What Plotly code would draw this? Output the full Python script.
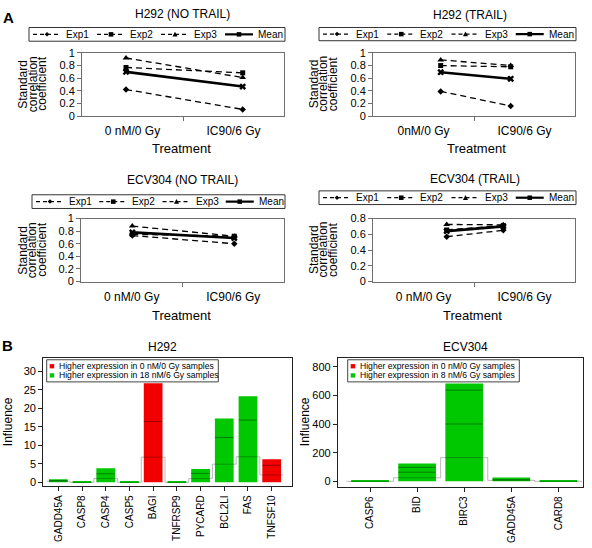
import numpy as np
import plotly.graph_objects as go

W, H = 592, 548
FONT = "Liberation Sans, Arial, sans-serif"
AX = "#6e6e6e"

# ---------------- Panel A data ----------------
series_names = ["Exp1", "Exp2", "Exp3", "Mean"]
treat_labels = ["0 nM/0 Gy", "IC90/6 Gy"]
treat_labels_b = ["0nM/0 Gy", "IC90/6 Gy"]
treat_index = [0, 1]

h292_notrail_exp1 = [0.42, 0.105]
h292_notrail_exp2 = [0.77, 0.685]
h292_notrail_exp3 = [0.92, 0.61]
h292_notrail_mean = [0.70, 0.467]

h292_trail_exp1 = [0.39, 0.16]
h292_trail_exp2 = [0.80, 0.78]
h292_trail_exp3 = [0.89, 0.80]
h292_trail_mean = [0.695, 0.59]

ecv_notrail_exp1 = [0.73, 0.60]
ecv_notrail_exp2 = [0.75, 0.72]
ecv_notrail_exp3 = [0.88, 0.72]
ecv_notrail_mean = [0.78, 0.69]

ecv_trail_exp1 = [0.57, 0.65]
ecv_trail_exp2 = [0.655, 0.71]
ecv_trail_exp3 = [0.725, 0.72]
ecv_trail_mean = [0.64, 0.70]

# ---------------- Panel B data ----------------
h292_genes = ["GADD45A", "CASP8", "CASP4", "CASP5", "BAGI", "TNFRSP9",
              "PYCARD", "BCL2LI", "FAS", "TNFSF10"]
h292_influence = [0.8, 0.1, 3.8, 0.1, 26.7, 0.1, 3.6, 17.2, 23.2, 6.2]
h292_higher_in = ["treated", "treated", "treated", "treated", "untreated",
                  "treated", "treated", "treated", "treated", "untreated"]
h292_threshold = [0.3, 0, 1.05, 0, 6.8, 0, 1.0, 4.9, 6.9, 2.0]
h292_inner = [0.45, 0, 2.3, 0, 16.4, 0, 2.4, 12.1, 16.8, 4.6]
h292_legend = ["Higher expression in 0 nM/0 Gy samples",
               "Higher expression in 18 nM/6 Gy samples"]

ecv_genes = ["CASP6", "BID", "BIRC3", "GADD45A", "CARD8"]
ecv_influence = [3, 125, 684, 27, 3]
ecv_higher_in = ["treated", "treated", "treated", "treated", "treated"]
ecv_threshold = [0, 25, 166, 7, 0]
ecv_inner = [0, 64, 401, 12, 0]
ecv_inner_upper = [0, 98, 638, 0, 0]
ecv_legend = ["Higher expression in 0 nM/0 Gy samples",
              "Higher expression in 8 nM/6 Gy samples"]

RED = "#f20000"
GREEN = "#00c800"


def fx(p):
    return p / W


def fy(p):
    return 1 - p / H


fig = go.Figure()
annotations = []
shapes = []
layout = {}

styles = [
    dict(dash="6px,4px", sdash="4px,3px", width=1.3, symbol="diamond", size=5),
    dict(dash="6px,4px", sdash="4px,3px", width=1.3, symbol="square", size=5),
    dict(dash="6px,4px", sdash="4px,3px", width=1.3, symbol="triangle-up", size=6),
    dict(dash="solid", sdash="solid", width=2.6, symbol="x", size=6),
]


def marker_path(symbol, cx, cy, r):
    """Small legend-key glyph as an SVG path in paper units (pixel helpers)."""
    if symbol == "diamond":
        pts = [(cx, cy - r), (cx + r, cy), (cx, cy + r), (cx - r, cy)]
    elif symbol == "square":
        pts = [(cx - r, cy - r), (cx + r, cy - r), (cx + r, cy + r), (cx - r, cy + r)]
    elif symbol == "triangle-up":
        pts = [(cx, cy - r * 1.2), (cx + r * 1.1, cy + r), (cx - r * 1.1, cy + r)]
    else:
        pts = [(cx - r, cy - r), (cx + r, cy - r), (cx + r, cy + r), (cx - r, cy + r)]
    return "M" + "L".join(f"{fx(a):.5f},{fy(b):.5f}" for a, b in pts) + "Z"


panelsA = [
    dict(title="H292 (NO TRAIL)", labels=treat_labels,
         series=[h292_notrail_exp1, h292_notrail_exp2, h292_notrail_exp3, h292_notrail_mean],
         box=(82, 284, 48, 112.5), pts=(126, 242.7), yr=[0, 1],
         title_xy=(182.5, 8.5), leg=(29, 285, 22, 36), treat_xy=(181.7, 146),
         ylab_x=(23.5, 33, 42.5), ylab_y=80),
    dict(title="H292 (TRAIL)", labels=treat_labels_b,
         series=[h292_trail_exp1, h292_trail_exp2, h292_trail_exp3, h292_trail_mean],
         box=(373, 575, 48, 112.5), pts=(440.7, 510.7), yr=[0, 1],
         title_xy=(470, 9.5), leg=(319, 576, 22, 35.5), treat_xy=(476.7, 146),
         ylab_x=(314, 323.5, 333), ylab_y=80),
    dict(title="ECV304 (NO TRAIL)", labels=treat_labels,
         series=[ecv_notrail_exp1, ecv_notrail_exp2, ecv_notrail_exp3, ecv_notrail_mean],
         box=(81, 284, 217.3, 281.7), pts=(132.3, 234.3), yr=[0, 1],
         title_xy=(182, 178), leg=(32, 285, 193, 207), treat_xy=(181.7, 316),
         ylab_x=(22.7, 32.2, 41.7), ylab_y=249.5),
    dict(title="ECV304 (TRAIL)", labels=treat_labels,
         series=[ecv_trail_exp1, ecv_trail_exp2, ecv_trail_exp3, ecv_trail_mean],
         box=(373, 575, 217.3, 281.7), pts=(446.7, 503.3), yr=[0, 0.8],
         title_xy=(475, 177), leg=(319, 576, 189, 203), treat_xy=(472.7, 316),
         ylab_x=(314, 323.5, 333), ylab_y=249.5),
]

for k, p in enumerate(panelsA, start=1):
    xa = "xaxis" if k == 1 else f"xaxis{k}"
    ya = "yaxis" if k == 1 else f"yaxis{k}"
    xr = "x" if k == 1 else f"x{k}"
    yr = "y" if k == 1 else f"y{k}"
    x0, x1, yt, yb = p["box"]
    p0, p1 = p["pts"]
    unit = p1 - p0
    lo, hi = (x0 - p0) / unit, (x1 - p0) / unit
    span = hi - lo
    for name, vals, st in zip(series_names, p["series"], styles):
        fig.add_trace(go.Scatter(
            x=treat_index, y=vals, xaxis=xr, yaxis=yr, name=name,
            mode="lines+markers", showlegend=False,
            line=dict(color="black", width=st["width"], dash=st["dash"]),
            marker=dict(symbol=st["symbol"], size=st["size"], color="black",
                        line=dict(width=0)),
        ))
    layout[xa] = dict(
        domain=[fx(x0), fx(x1)], range=[lo, hi], anchor=yr,
        showline=True, linecolor=AX, linewidth=1, mirror=True,
        showgrid=False, zeroline=False,
        tickmode="array", tickvals=[lo + 0.25 * span, lo + 0.75 * span],
        ticktext=p["labels"], ticks="", ticklabelstandoff=4,
        tickfont=dict(size=12, family=FONT, color="black"),
        minor=dict(tickmode="array", tickvals=[lo + 0.5 * span], ticks="outside",
                   ticklen=4, tickcolor=AX, tickwidth=1, showgrid=False),
    )
    layout[ya] = dict(
        domain=[fy(yb), fy(yt)], range=p["yr"], anchor=xr, dtick=0.2,
        showline=True, linecolor=AX, linewidth=1, mirror=True,
        showgrid=False, zeroline=False, ticks="outside", ticklen=4,
        tickcolor=AX, tickfont=dict(size=11, family=FONT, color="black"),
    )
    # legend (drawn as key glyphs + text)
    bx0, bx1, by0, by1 = p["leg"]
    shapes.append(dict(type="rect", xref="paper", yref="paper",
                       x0=fx(bx0), x1=fx(bx1), y0=fy(by1), y1=fy(by0),
                       line=dict(color="#333333", width=1), fillcolor="white"))
    cy = (by0 + by1) / 2
    step = (bx1 - bx0) / 4.0
    for i, (name, st) in enumerate(zip(series_names, styles)):
        lx0 = bx0 + 4 + i * step
        lx1 = lx0 + 28
        shapes.append(dict(type="line", xref="paper", yref="paper",
                           x0=fx(lx0), x1=fx(lx1), y0=fy(cy), y1=fy(cy),
                           line=dict(color="black", width=1.2 if i < 3 else 2.2,
                                     dash=st["sdash"])))
        shapes.append(dict(type="path", xref="paper", yref="paper",
                           path=marker_path(st["symbol"], (lx0 + lx1) / 2, cy, 2.3),
                           fillcolor="black", line=dict(width=0)))
        annotations.append(dict(
            text=name, x=fx(lx1 + 3), y=fy(cy), xref="paper", yref="paper",
            showarrow=False, xanchor="left", yanchor="middle",
            font=dict(size=10, family=FONT, color="black")))
    annotations.append(dict(
        text=p["title"], x=fx(p["title_xy"][0]), y=fy(p["title_xy"][1]),
        xref="paper", yref="paper", showarrow=False, xanchor="center",
        yanchor="middle", font=dict(size=12, family=FONT, color="black")))
    annotations.append(dict(
        text="Treatment", x=fx(p["treat_xy"][0]), y=fy(p["treat_xy"][1]),
        xref="paper", yref="paper", showarrow=False, xanchor="center",
        yanchor="middle", font=dict(size=13, family=FONT, color="black")))
    for word, xx in zip(["Standard", "correlation", "coefficient"], p["ylab_x"]):
        annotations.append(dict(
            text=word, x=fx(xx), y=fy(p["ylab_y"]), xref="paper", yref="paper",
            showarrow=False, textangle=-90, xanchor="center", yanchor="middle",
            font=dict(size=12, family=FONT, color="black")))

# ---------------- Panel B ----------------
panelsB = [
    dict(title="H292", genes=h292_genes, vals=h292_influence, dirn=h292_higher_in,
         thr=h292_threshold, inner=[h292_inner], leg_text=h292_legend,
         box=(43.3, 291.7, 360, 491), cat=(58.3, 23.71), y0=487, yunit=3.79,
         dtick=5, width=0.79, title_xy=(162, 349), infl_x=8,
         legbox=(46.7, 218.3, 361.7, 384.3)),
    dict(title="ECV304", genes=ecv_genes, vals=ecv_influence, dirn=ecv_higher_in,
         thr=ecv_threshold, inner=[ecv_inner, ecv_inner_upper], leg_text=ecv_legend,
         box=(338, 583.3, 360, 492), cat=(370, 47.1), y0=486, yunit=29.25 / 200,
         dtick=200, width=0.8, title_xy=(465, 348.5), infl_x=305,
         legbox=(347.7, 519.3, 361.7, 384.3)),
]

for j, p in enumerate(panelsB, start=5):
    xa, ya = f"xaxis{j}", f"yaxis{j}"
    xr, yr = f"x{j}", f"y{j}"
    x0, x1, yt, yb = p["box"]
    c0, cs = p["cat"]
    n = len(p["genes"])
    idx = np.arange(n)
    vals = np.array(p["vals"], dtype=float)
    dirn = np.array(p["dirn"])
    for key, col in (("untreated", RED), ("treated", GREEN)):
        m = dirn == key
        if m.any():
            fig.add_trace(go.Bar(
                x=idx[m], y=vals[m], xaxis=xr, yaxis=yr, width=p["width"],
                marker=dict(color=col, line=dict(width=0)), showlegend=False,
                hoverinfo="skip"))
    thr = list(p["thr"]) + [p["thr"][-1]]
    fig.add_trace(go.Scatter(
        x=np.arange(n + 1) - 0.5, y=thr, xaxis=xr, yaxis=yr, mode="lines",
        line=dict(color="rgba(0,0,0,0.27)", width=1, shape="hv"),
        showlegend=False, hoverinfo="skip"))
    lx, ly = [], []
    for arr in p["inner"]:
        for i, v in enumerate(arr):
            if v > 0:
                lx += [i - p["width"] / 2, i + p["width"] / 2, None]
                ly += [v, v, None]
    fig.add_trace(go.Scatter(
        x=lx, y=ly, xaxis=xr, yaxis=yr, mode="lines",
        line=dict(color="rgba(0,0,0,0.38)", width=1),
        showlegend=False, hoverinfo="skip"))
    layout[xa] = dict(
        domain=[fx(x0), fx(x1)], range=[(x0 - c0) / cs, (x1 - c0) / cs], anchor=yr,
        showline=True, linecolor="#222222", linewidth=1.2, mirror=True,
        showgrid=False, zeroline=False, tickmode="array", tickvals=idx,
        ticktext=p["genes"], ticks="outside", ticklen=4, tickcolor="#222222",
        tickangle=-90, tickfont=dict(size=10, family=FONT, color="black"),
    )
    layout[ya] = dict(
        domain=[fy(yb), fy(yt)],
        range=[-(yb - p["y0"]) / p["yunit"], (p["y0"] - yt) / p["yunit"]],
        anchor=xr, dtick=p["dtick"],
        showline=True, linecolor="#222222", linewidth=1.2, mirror=True,
        showgrid=False, zeroline=False, ticks="outside", ticklen=4,
        tickcolor="#222222", tickfont=dict(size=11, family=FONT, color="black"),
    )
    annotations.append(dict(
        text=p["title"], x=fx(p["title_xy"][0]), y=fy(p["title_xy"][1]),
        xref="paper", yref="paper", showarrow=False, xanchor="center",
        yanchor="middle", font=dict(size=12, family=FONT, color="black")))
    annotations.append(dict(
        text="Influence", x=fx(p["infl_x"]), y=fy(425.5), xref="paper",
        yref="paper", showarrow=False, textangle=-90, xanchor="center",
        yanchor="middle", font=dict(size=12, family=FONT, color="black")))
    bx0, bx1, by0, by1 = p["legbox"]
    shapes.append(dict(type="rect", xref="paper", yref="paper",
                       x0=fx(bx0), x1=fx(bx1), y0=fy(by1), y1=fy(by0),
                       line=dict(color="#444444", width=1), fillcolor="white"))
    for r, (txt, col) in enumerate(zip(p["leg_text"], (RED, GREEN))):
        cy = by0 + 6.6 + r * 9.4
        shapes.append(dict(type="rect", xref="paper", yref="paper",
                           x0=fx(bx0 + 3), x1=fx(bx0 + 7.5),
                           y0=fy(cy + 2.2), y1=fy(cy - 2.2),
                           line=dict(width=0), fillcolor=col))
        annotations.append(dict(
            text=txt, x=fx(bx0 + 10), y=fy(cy), xref="paper", yref="paper",
            showarrow=False, xanchor="left", yanchor="middle",
            font=dict(size=8.6, family=FONT, color="black")))

# Panel letters
annotations.append(dict(text="<b>A</b>", x=fx(1), y=fy(1), xref="paper", yref="paper",
                        showarrow=False, xanchor="left", yanchor="top",
                        font=dict(size=15, family=FONT, color="black")))
annotations.append(dict(text="<b>B</b>", x=fx(0), y=fy(336), xref="paper", yref="paper",
                        showarrow=False, xanchor="left", yanchor="top",
                        font=dict(size=15, family=FONT, color="black")))

fig.update_layout(
    width=W, height=H, margin=dict(l=0, r=0, t=0, b=0),
    paper_bgcolor="white", plot_bgcolor="white",
    barmode="overlay", annotations=annotations, shapes=shapes,
    font=dict(family=FONT, color="black"), showlegend=False,
    **layout,
)

fig.write_html("out.html", config={"displayModeBar": False},
               post_script="document.body.style.margin='0px';document.body.style.overflow='hidden';")
